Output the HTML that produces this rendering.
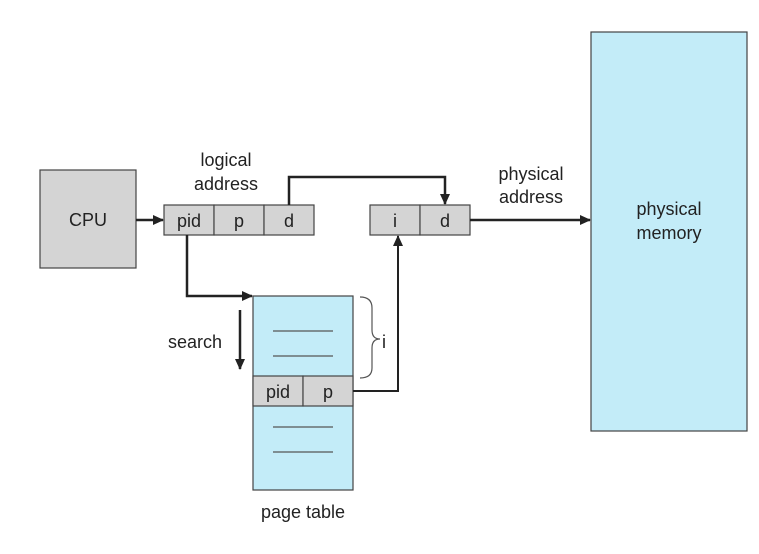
<!DOCTYPE html>
<html><head><style>
body{margin:0;background:#fff;}
svg text{font-family:"Liberation Sans",sans-serif;fill:#222;}
</style></head><body>
<svg width="759" height="549" viewBox="0 0 759 549" xmlns="http://www.w3.org/2000/svg">
<defs><marker id="a" markerWidth="11" markerHeight="10" refX="10" refY="5" orient="auto" markerUnits="userSpaceOnUse"><path d="M0,0 L11,5 L0,10 z" fill="#222"/></marker></defs>
<rect x="591" y="32" width="156" height="399" fill="#c3ecf8" stroke="#444" stroke-width="1.2"/>
<text x="669" y="215" font-size="18" text-anchor="middle">physical</text>
<text x="669" y="239" font-size="18" text-anchor="middle">memory</text>
<rect x="40" y="170" width="96" height="98" fill="#d4d4d4" stroke="#444" stroke-width="1.2"/>
<text x="88" y="226" font-size="18" text-anchor="middle">CPU</text>
<g fill="#d4d4d4" stroke="#444" stroke-width="1.2">
<rect x="164" y="205" width="50" height="30"/><rect x="214" y="205" width="50" height="30"/><rect x="264" y="205" width="50" height="30"/>
<rect x="370" y="205" width="50" height="30"/><rect x="420" y="205" width="50" height="30"/>
<rect x="253" y="296" width="100" height="194" fill="#c3ecf8"/>
<rect x="253" y="376" width="50" height="30"/><rect x="303" y="376" width="50" height="30"/>
</g>
<g font-size="18" text-anchor="middle">
<text x="189" y="227">pid</text><text x="239" y="227">p</text><text x="289" y="227">d</text>
<text x="395" y="227">i</text><text x="445" y="227">d</text>
<text x="278" y="398">pid</text><text x="328" y="398">p</text>
<text x="226" y="166">logical</text><text x="226" y="190">address</text>
<text x="531" y="180">physical</text><text x="531" y="203">address</text>
<text x="195" y="348">search</text>
<text x="303" y="518">page table</text>
<text x="382" y="348" text-anchor="start">i</text>
</g>
<g stroke="#555" stroke-width="1.2">
<line x1="273" y1="331" x2="333" y2="331"/><line x1="273" y1="356" x2="333" y2="356"/>
<line x1="273" y1="427" x2="333" y2="427"/><line x1="273" y1="452" x2="333" y2="452"/>
</g>
<path d="M360,297 Q372,297 372,308 L372,330 Q372,339 380,339 Q372,339 372,348 L372,368 Q372,378 360,378" fill="none" stroke="#555" stroke-width="1.2"/>
<g stroke="#222" stroke-width="2.5" fill="none">
<line x1="136" y1="220" x2="163" y2="220" marker-end="url(#a)"/>
<polyline points="187,235 187,296 252,296" marker-end="url(#a)"/>
<polyline points="289,205 289,177 445,177 445,204" marker-end="url(#a)"/>
<polyline points="353,391 398,391 398,236" marker-end="url(#a)" stroke-width="2"/>
<line x1="240" y1="310" x2="240" y2="369" marker-end="url(#a)"/>
<line x1="470" y1="220" x2="590" y2="220" marker-end="url(#a)"/>
</g>
</svg>
</body></html>
